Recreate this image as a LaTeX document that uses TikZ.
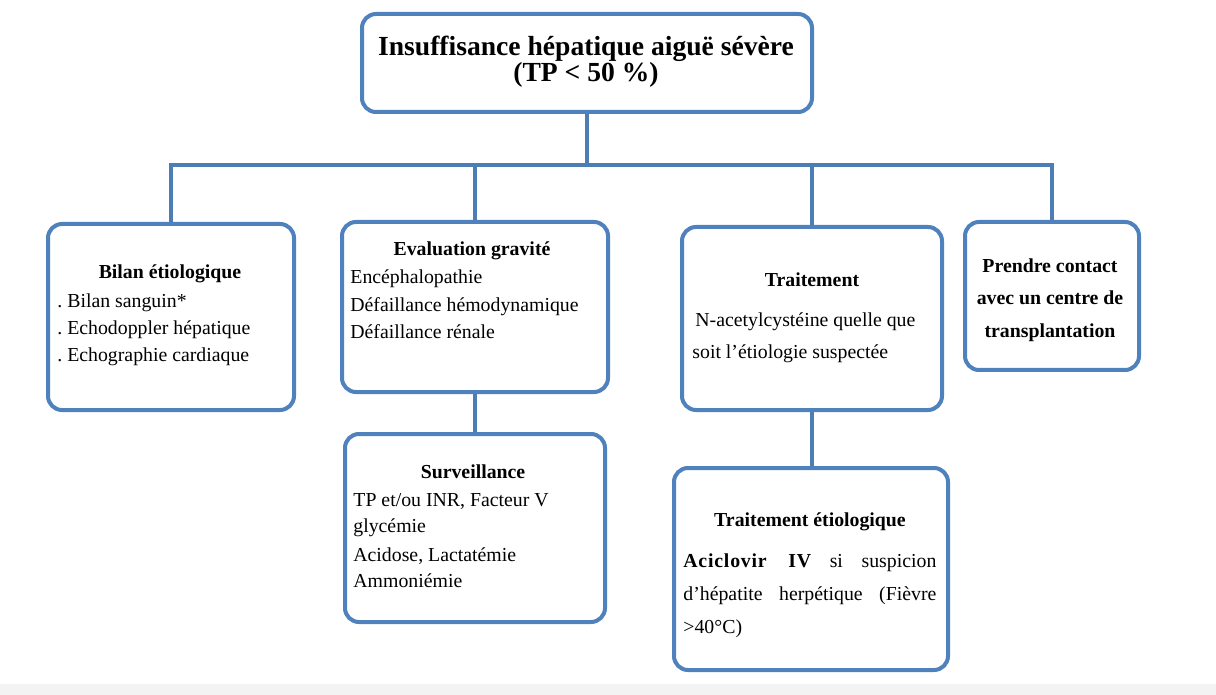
\documentclass[tikz,border=0pt]{standalone}
\usepackage{fontspec}
\setmainfont{Liberation Serif}
\frenchspacing
\definecolor{boxblue}{HTML}{4F81BD}
\definecolor{lineblue}{HTML}{4D7DB5}
\definecolor{bandgray}{HTML}{F3F3F3}
\begin{document}
\begin{tikzpicture}[x=0.5pt,y=-0.5pt,
  box/.style={draw=boxblue, line width=2pt, rounded corners=7pt, fill=white, anchor=north west, inner sep=0pt},
  conn/.style={draw=lineblue, line width=2pt},
  body/.style={inner sep=0pt, font=\fontsize{9.9}{12}\selectfont},
  head/.style={inner sep=0pt, font=\fontsize{9.9}{12}\selectfont\bfseries},
  ttl/.style={inner sep=0pt, font=\fontsize{13.8}{16}\selectfont\bfseries}]
\useasboundingbox (0,0) rectangle (1216,695);
\fill[white] (0,0) rectangle (1216,695);
\fill[bandgray] (0,684) rectangle (1216,695);

% boxes
\node[box, minimum width=225pt, minimum height=49pt] (top) at (360,12) {};
\node[box, minimum width=123pt, minimum height=93pt] (bilan) at (46,222) {};
\node[box, minimum width=133pt, minimum height=85pt] (eval) at (340,220) {};
\node[box, minimum width=130pt, minimum height=91.5pt] (trait) at (680,225) {};
\node[box, minimum width=87pt, minimum height=74pt] (prendre) at (963,220) {};
\node[box, minimum width=130pt, minimum height=94pt] (surv) at (343,432) {};
\node[box, minimum width=137pt, minimum height=101pt] (tetio) at (672,466) {};

% connectors
\coordinate (bus) at (585,165);
\draw[conn] (top.south) -- (top.south |- bus);
\draw[conn] (bilan.north) -- (bilan.north |- bus) -- (prendre.north |- bus) -- (prendre.north);
\draw[conn] (eval.north) -- (eval.north |- bus);
\draw[conn] (trait.north) -- (trait.north |- bus);
\draw[conn] (eval.south) -- (surv.north);
\draw[conn] (trait.south) -- (trait.south |- tetio.north);

% title
\node[ttl, anchor=base] (t1) at (586,56) {Insuffisance hépatique aiguë sévère};
\node[ttl, anchor=base] (t2) at (586,82) {(TP < 50 \%)};

% bilan
\node[head, anchor=base] (bh) at (170,279) {Bilan étiologique};
\node[body, anchor=base west] (b1) at (57,307) {. Bilan sanguin*};
\node[body, anchor=base west] (b2) at (57,335) {. Echodoppler hépatique};
\node[body, anchor=base west] (b3) at (57,362) {. Echographie cardiaque};

% evaluation
\node[head, anchor=base] (eh) at (472,256) {Evaluation gravité};
\node[body, anchor=base west] (e1) at (350,284) {Encéphalopathie};
\node[body, anchor=base west] (e2) at (350,312) {Défaillance hémodynamique};
\node[body, anchor=base west] (e3) at (350,339) {Défaillance rénale};

% traitement
\node[head, anchor=base] (th) at (812,287) {Traitement};
\node[body, anchor=base west] (tr1) at (695,327) {N-acetylcystéine quelle que};
\node[body, anchor=base west] (tr2) at (692,358) {soit l’étiologie suspectée};

% prendre contact
\node[head, anchor=base] (p1) at (1050,273) {Prendre contact};
\node[head, anchor=base] (p2) at (1050,305) {avec un centre de};
\node[head, anchor=base] (p3) at (1050,337) {transplantation};

% surveillance
\node[head, anchor=base] (sh) at (473,478) {Surveillance};
\node[body, anchor=base west] (s1) at (353,506) {TP et/ou INR, Facteur V};
\node[body, anchor=base west] (s2) at (353,532) {glycémie};
\node[body, anchor=base west] (s3) at (353,561) {Acidose, Lactatémie};
\node[body, anchor=base west] (s4) at (353,587) {Ammoniémie};

% traitement etiologique
\node[head, anchor=base] (teh) at (810,526) {Traitement étiologique};
\node[body, anchor=base west] (te1) at (683,567) {\makebox[126.5pt][s]{{\bfseries\addfontfeature{LetterSpace=4}Aciclovir IV} si suspicion}};
\node[body, anchor=base west] (te2) at (683,600) {\makebox[126.5pt][s]{d’hépatite herpétique (Fièvre}};
\node[body, anchor=base west] (te3) at (683,633) {>40°C)};
\end{tikzpicture}
\end{document}
